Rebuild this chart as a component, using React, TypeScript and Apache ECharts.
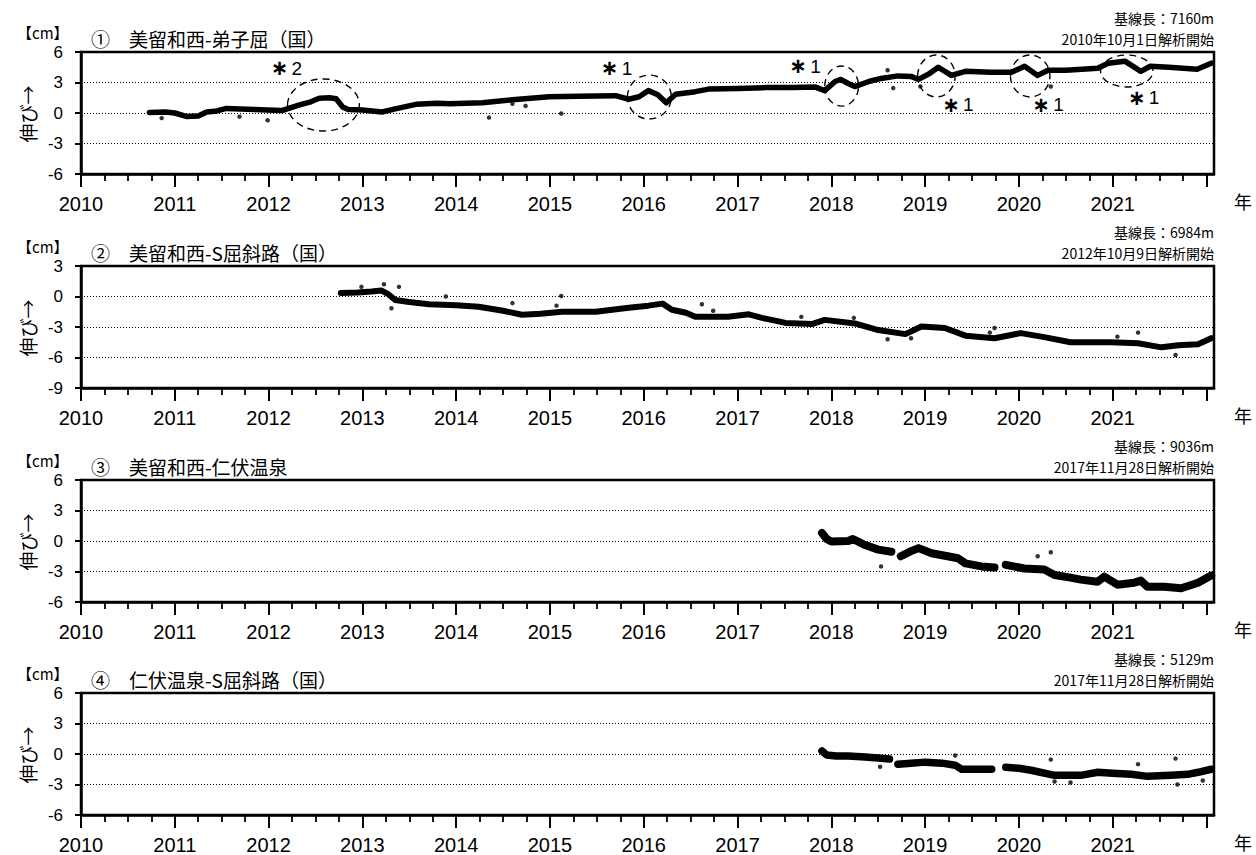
import React, { useEffect, useRef } from "react";
import * as echarts from "echarts";

const W = 1256;
const H = 855;
const XMIN = 2010;
const XMAX = 2022.08;

// tick marks / labels
const yearTicks = [2010, 2011, 2012, 2013, 2014, 2015, 2016, 2017, 2018, 2019, 2020, 2021, 2022];
const yearLabels = [2010, 2011, 2012, 2013, 2014, 2015, 2016, 2017, 2018, 2019, 2020, 2021];
const quarterTicks: number[] = [];
yearTicks.forEach((y) => { if (y < 2022) [0.25, 0.5, 0.75].forEach((q) => quarterTicks.push(y + q)); });

// panel texts
const titles = ["①　美留和西-弟子屈（国）", "②　美留和西-S屈斜路（国）", "③　美留和西-仁伏温泉", "④　仁伏温泉-S屈斜路（国）"];
const baselineLens = ["7160", "6984", "9036", "5129"];
const startDates = ["2010年10月1日解析開始", "2012年10月9日解析開始", "2017年11月28日解析開始", "2017年11月28日解析開始"];
const yMins = [-6, -9, -6, -6];
const yMaxs = [6, 3, 6, 6];

// Panel 1 : 美留和西-弟子屈
const p1T = [2010.73, 2010.9, 2011.0, 2011.13, 2011.25, 2011.34, 2011.45, 2011.55, 2011.7, 2011.85, 2011.98, 2012.15, 2012.33, 2012.45, 2012.54, 2012.65, 2012.72, 2012.79, 2012.85, 2013.0, 2013.21, 2013.35, 2013.57, 2013.8, 2013.93, 2014.28, 2014.6, 2014.99, 2015.3, 2015.7, 2015.84, 2015.95, 2016.05, 2016.15, 2016.24, 2016.34, 2016.55, 2016.69, 2017.0, 2017.3, 2017.6, 2017.83, 2017.93, 2018.04, 2018.1, 2018.18, 2018.25, 2018.4, 2018.53, 2018.71, 2018.85, 2018.93, 2019.05, 2019.14, 2019.28, 2019.43, 2019.7, 2019.92, 2020.06, 2020.2, 2020.31, 2020.5, 2020.84, 2020.95, 2021.13, 2021.3, 2021.4, 2021.6, 2021.9, 2022.05];
const p1V = [0.05, 0.1, 0.0, -0.35, -0.3, 0.1, 0.2, 0.45, 0.4, 0.35, 0.3, 0.25, 0.8, 1.1, 1.45, 1.5, 1.4, 0.6, 0.35, 0.3, 0.1, 0.4, 0.85, 0.95, 0.9, 1.0, 1.3, 1.6, 1.65, 1.7, 1.35, 1.6, 2.2, 1.8, 1.0, 1.85, 2.1, 2.35, 2.4, 2.5, 2.5, 2.55, 2.2, 3.1, 3.3, 2.9, 2.6, 3.1, 3.4, 3.65, 3.6, 3.3, 3.9, 4.5, 3.7, 4.1, 4.0, 4.0, 4.6, 3.7, 4.2, 4.2, 4.4, 4.9, 5.1, 4.1, 4.6, 4.5, 4.3, 4.9];
const p1OutT = [2010.86, 2011.69, 2011.99, 2014.35, 2014.6, 2014.74, 2015.12, 2018.6, 2018.66, 2018.95, 2020.34];
const p1OutV = [-0.5, -0.36, -0.72, -0.45, 0.9, 0.7, -0.05, 4.2, 2.45, 2.6, 2.6];

// Panel 2 : 美留和西-S屈斜路
const p2T = [2012.77, 2012.95, 2013.1, 2013.2, 2013.28, 2013.35, 2013.5, 2013.71, 2014.0, 2014.24, 2014.5, 2014.7, 2014.9, 2015.13, 2015.49, 2015.84, 2016.05, 2016.2, 2016.3, 2016.45, 2016.55, 2016.9, 2017.12, 2017.26, 2017.44, 2017.51, 2017.8, 2017.93, 2018.25, 2018.5, 2018.79, 2018.96, 2019.21, 2019.43, 2019.74, 2020.02, 2020.27, 2020.55, 2020.98, 2021.27, 2021.52, 2021.7, 2021.91, 2022.05];
const p2V = [0.35, 0.4, 0.5, 0.6, 0.2, -0.35, -0.55, -0.76, -0.85, -1.0, -1.4, -1.8, -1.7, -1.5, -1.5, -1.1, -0.9, -0.7, -1.3, -1.6, -2.0, -2.0, -1.75, -2.1, -2.45, -2.6, -2.7, -2.3, -2.65, -3.3, -3.7, -2.95, -3.1, -3.85, -4.1, -3.6, -4.0, -4.5, -4.5, -4.6, -5.0, -4.8, -4.7, -4.1];
const p2OutT = [2012.99, 2013.23, 2013.39, 2013.31, 2013.89, 2014.6, 2015.12, 2015.07, 2016.62, 2016.74, 2017.68, 2018.24, 2018.6, 2018.85, 2019.74, 2019.69, 2021.05, 2021.27, 2021.67];
const p2OutV = [0.95, 1.2, 0.95, -1.15, 0.0, -0.65, 0.05, -0.9, -0.76, -1.4, -2.0, -2.1, -4.2, -4.1, -3.1, -3.55, -3.95, -3.55, -5.75];

// Panel 3 : 美留和西-仁伏温泉 (null = data gap)
const p3T = [2017.9, 2017.95, 2018.0, 2018.18, 2018.23, 2018.36, 2018.5, 2018.64, 2018.69, 2018.74, 2018.85, 2018.93, 2019.07, 2019.24, 2019.35, 2019.43, 2019.6, 2019.74, 2019.8, 2019.86, 2020.06, 2020.27, 2020.38, 2020.55, 2020.66, 2020.84, 2020.91, 2021.05, 2021.23, 2021.3, 2021.37, 2021.55, 2021.73, 2021.91, 2022.05];
const p3V = [0.8, 0.2, -0.05, 0.0, 0.2, -0.4, -0.85, -1.05, null, -1.5, -1.0, -0.7, -1.2, -1.5, -1.7, -2.2, -2.5, -2.6, null, -2.35, -2.7, -2.8, -3.35, -3.6, -3.8, -4.0, -3.5, -4.3, -4.1, -3.9, -4.5, -4.5, -4.65, -4.1, -3.4];
const p3OutT = [2018.53, 2020.2, 2020.34];
const p3OutV = [-2.5, -1.5, -1.1];

// Panel 4 : 仁伏温泉-S屈斜路 (null = data gap)
const p4T = [2017.9, 2017.95, 2018.05, 2018.18, 2018.36, 2018.5, 2018.62, 2018.66, 2018.71, 2018.85, 2019.0, 2019.18, 2019.32, 2019.39, 2019.55, 2019.71, 2019.78, 2019.86, 2020.0, 2020.13, 2020.38, 2020.66, 2020.84, 2021.0, 2021.2, 2021.37, 2021.62, 2021.8, 2021.91, 2022.05];
const p4V = [0.3, -0.1, -0.2, -0.2, -0.3, -0.4, -0.5, null, -1.0, -0.9, -0.8, -0.9, -1.1, -1.5, -1.5, -1.5, null, -1.3, -1.4, -1.6, -2.1, -2.1, -1.8, -1.9, -2.0, -2.2, -2.1, -2.0, -1.8, -1.5];
const p4OutT = [2018.52, 2019.32, 2020.34, 2021.27, 2021.67, 2020.38, 2020.55, 2021.69, 2021.96];
const p4OutV = [-1.25, -0.15, -0.55, -1.0, -0.45, -2.7, -2.8, -3.0, -2.6];

// panel-1 annotations (dashed ellipses)
const annoT = [2012.585, 2016.06, 2018.11, 2019.12, 2020.12, 2021.15];
const annoV = [0.79, 1.57, 2.65, 3.64, 3.64, 4.13];
const annoRT = [0.383, 0.234, 0.18, 0.2, 0.21, 0.28];
const annoRV = [2.56, 2.16, 1.97, 2.06, 2.06, 1.57];
const annoNum = ["2", "1", "1", "1", "1", "1"];
const annoLabelT = [2012.19, 2015.71, 2017.72, 2019.35, 2020.31, 2021.33];
const annoLabelV = [4.4, 4.4, 4.6, 0.8, 0.8, 1.5];

const mainT = [p1T, p2T, p3T, p4T];
const mainV = [p1V, p2V, p3V, p4V];
const outT = [p1OutT, p2OutT, p3OutT, p4OutT];
const outV = [p1OutV, p2OutV, p3OutV, p4OutV];
const bandWidths = [5.5, 6, 8, 7.5];

const gridTops = [52, 266, 480, 693];
const GRID_H = 122;
const GRID_LEFT = 81;
const GRID_RIGHT = W - 1214;

const NUM_FONT = "'Liberation Sans', 'DejaVu Sans', sans-serif";
const JP_FONT = "'Noto Sans CJK JP', sans-serif";

function buildOption() {
  const grid: any[] = [];
  const xAxis: any[] = [];
  const yAxis: any[] = [];
  const series: any[] = [];
  for (let i = 0; i < 4; i++) {
    grid.push({ left: GRID_LEFT, right: GRID_RIGHT, top: gridTops[i], height: GRID_H, show: true, borderColor: "#000", borderWidth: 2.5, backgroundColor: "transparent" });
    xAxis.push({
      gridIndex: i, type: "value", min: XMIN, max: XMAX, position: "bottom",
      axisLine: { show: true, onZero: false, lineStyle: { color: "#000", width: 2.5 } },
      axisTick: { show: true, inside: false, length: 13, customValues: yearTicks, lineStyle: { color: "#000", width: 2 } },
      axisLabel: { show: true, customValues: yearLabels, formatter: (v: number) => String(v), color: "#000", fontFamily: NUM_FONT, fontSize: 20, margin: 20 },
      splitLine: { show: false },
    });
    xAxis.push({
      gridIndex: i, type: "value", min: XMIN, max: XMAX, position: "bottom",
      axisLine: { show: false, onZero: false },
      axisTick: { show: true, inside: false, length: 7, customValues: quarterTicks, lineStyle: { color: "#000", width: 1.8 } },
      axisLabel: { show: false },
      splitLine: { show: false },
    });
    yAxis.push({
      gridIndex: i, type: "value", min: yMins[i], max: yMaxs[i], interval: 3,
      axisLine: { show: true, onZero: false, lineStyle: { color: "#000", width: 2.5 } },
      axisTick: { show: true, inside: false, length: 6, lineStyle: { color: "#000", width: 2 } },
      axisLabel: { color: "#000", fontFamily: NUM_FONT, fontSize: 17, margin: 18 },
      splitLine: { show: true, lineStyle: { color: "#000", width: 1, type: [1, 2] } },
    });
    series.push({
      type: "line", xAxisIndex: 2 * i, yAxisIndex: i, showSymbol: false, connectNulls: false,
      lineStyle: { color: "#000", width: bandWidths[i], join: "round", cap: "round" },
      data: mainT[i].map((t, k) => [t, mainV[i][k] === null ? "-" : mainV[i][k]]),
      silent: true,
    });
    series.push({
      type: "scatter", xAxisIndex: 2 * i, yAxisIndex: i, symbolSize: 4.5,
      itemStyle: { color: "#000" },
      data: outT[i].map((t, k) => [t, outV[i][k]]),
      silent: true,
    });
  }
  return { animation: false, backgroundColor: "#fff", grid, xAxis, yAxis, series };
}

export default function App() {
  const ref = useRef<HTMLDivElement>(null);
  useEffect(() => {
    if (!ref.current) return;
    const chart = echarts.init(ref.current, null, { renderer: "svg", width: W, height: H });
    chart.setOption(buildOption());

    const graphic: any[] = [];
    for (let i = 0; i < 4; i++) {
      const off = gridTops[i] - gridTops[0];
      graphic.push({ type: "text", x: 17, y: 32 + off, style: { text: "【cm】", font: `15px ${JP_FONT}`, fill: "#000", verticalAlign: "middle", align: "left" } });
      graphic.push({ type: "text", x: 91, y: 38 + off, style: { text: titles[i], font: `19px ${JP_FONT}`, fill: "#000", verticalAlign: "middle", align: "left" } });
      graphic.push({ type: "text", x: 1214, y: 18 + off, style: { text: `基線長：${baselineLens[i]}m`, font: `14px ${JP_FONT}`, fill: "#000", verticalAlign: "middle", align: "right" } });
      graphic.push({ type: "text", x: 1214, y: 38.5 + off, style: { text: startDates[i], font: `14px ${JP_FONT}`, fill: "#000", verticalAlign: "middle", align: "right" } });
      graphic.push({ type: "text", x: 27, y: 114 + off, rotation: Math.PI / 2, style: { text: "伸び→", font: `19px ${JP_FONT}`, fill: "#000", verticalAlign: "middle", align: "center" } });
      graphic.push({ type: "text", x: 1243, y: 201 + off, style: { text: "年", font: `18px ${JP_FONT}`, fill: "#000", verticalAlign: "middle", align: "center" } });
    }
    for (let k = 0; k < annoT.length; k++) {
      const c = chart.convertToPixel({ gridIndex: 0 }, [annoT[k], annoV[k]]) as number[];
      const e = chart.convertToPixel({ gridIndex: 0 }, [annoT[k] + annoRT[k], annoV[k] + annoRV[k]]) as number[];
      const l = chart.convertToPixel({ gridIndex: 0 }, [annoLabelT[k], annoLabelV[k]]) as number[];
      graphic.push({ type: "ellipse", shape: { cx: c[0], cy: c[1], rx: Math.abs(e[0] - c[0]), ry: Math.abs(c[1] - e[1]) }, style: { fill: "none", stroke: "#000", lineWidth: 1.4, lineDash: [7, 5] }, z: 100 });
      graphic.push({
        type: "text", x: l[0], y: l[1], z: 100,
        style: {
          text: `{a|∗} {b|${annoNum[k]}}`, fill: "#000", verticalAlign: "middle", align: "center",
          rich: {
            a: { fontFamily: "'DejaVu Sans', sans-serif", fontWeight: "bold", fontSize: 21, fill: "#000" },
            b: { fontFamily: NUM_FONT, fontSize: 19, fill: "#000" },
          },
        },
      });
    }
    chart.setOption({ graphic });
    return () => chart.dispose();
  }, []);
  return <div ref={ref} style={{ position: "absolute", left: 0, top: 0, width: W, height: H }} />;
}
